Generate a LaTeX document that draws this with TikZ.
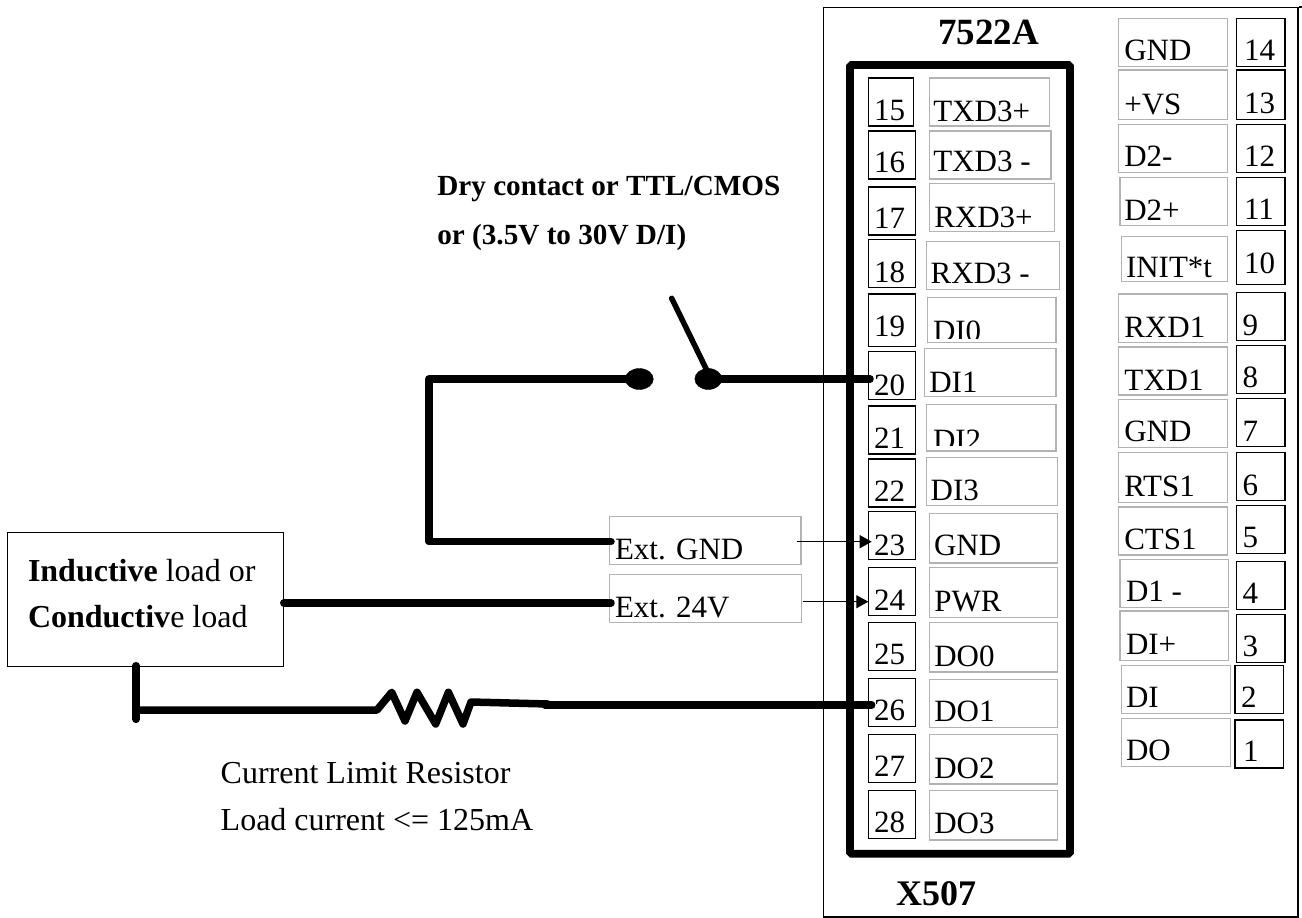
\documentclass[tikz,border=0pt]{standalone}
\usepackage{fontspec}
\setmainfont{Liberation Serif}
\usetikzlibrary{arrows.meta,shapes.geometric}
\newcommand{\fsz}[1]{\fontsize{#1}{#1}\selectfont}
\tikzset{
  numbox/.style={draw=black,line width=1.2pt,inner sep=0pt,outer sep=0pt,fill=white},
  graybox/.style={draw=black!30,line width=1.5pt,inner sep=0pt,outer sep=0pt,fill=white},
  plabel/.style={anchor=base west,inner sep=0pt,outer sep=0pt,font=\fsz{31}},
  biglabel/.style={anchor=base west,inner sep=0pt,outer sep=0pt,font=\fsz{32}},
  notelabel/.style={anchor=base west,inner sep=0pt,outer sep=0pt,font=\fsz{29.2}\bfseries},
  wire/.style={line width=7.5pt,line cap=round,line join=round},
  thinarrow/.style={line width=1.2pt,-{Triangle[length=12pt,width=13pt]}},
}
% box: style, name, x1,y1,x2,y2
\newcommand{\bx}[6]{\node[#1,minimum width={(#5-#3)*1pt},minimum height={(#6-#4)*1pt}] (#2) at ({(#3+#5)/2},{(#4+#6)/2}) {};}
% pin: name, x1,y1,x2,y2,tx,ty,text
\newcommand{\npin}[8]{\bx{numbox}{n#1}{#2}{#3}{#4}{#5}\node[plabel] (tn#1) at (#6,#7) {#8};}
\newcommand{\gpin}[8]{\bx{graybox}{g#1}{#2}{#3}{#4}{#5}\node[plabel] (tg#1) at (#6,#7) {#8};}
\begin{document}
\begin{tikzpicture}[x=1pt,y=-1pt]
\useasboundingbox (0,0) rectangle (1302,918);
% module frame
\node[draw=black,line width=1.2pt,inner sep=0pt,minimum width=474.5pt,minimum height=909.5pt] (frame) at (1060.75,462.25) {};
\draw[line width=1.2pt] (frame.north east) -- ++(3.5,0) coordinate (frametop);
% connector outline
\node[draw=black,line width=7.6pt,rounded corners=1.5pt,inner sep=0pt,minimum width=220pt,minimum height=788.7pt] (conn) at (960,459.35) {};
% left pins
\npin{15}{868.7}{78}{913.7}{126}{874}{120.7}{15}
\npin{16}{868.7}{131}{915.3}{179}{874}{172.7}{16}
\npin{17}{868.7}{187}{915.3}{235}{874}{228.3}{17}
\npin{18}{868.7}{239.7}{915.3}{287.7}{874}{282.7}{18}
\npin{19}{868.7}{294}{915.3}{346.7}{874}{336.7}{19}
\npin{20}{868.7}{351.7}{915.3}{399.7}{874}{395}{20}
\npin{21}{868.7}{406}{915.3}{454}{874}{448.3}{21}
\npin{22}{868.7}{459}{915.3}{507}{874}{501}{22}
\npin{23}{868.7}{511.7}{915.3}{559.7}{874}{555}{23}
\npin{24}{868.7}{567.7}{915.3}{615.7}{874}{610}{24}
\npin{25}{868.7}{622.3}{915.3}{670.3}{874}{664}{25}
\npin{26}{868.7}{678.3}{915.3}{726.3}{874}{720.7}{26}
\npin{27}{868.7}{734.3}{915.3}{782.3}{874}{776}{27}
\npin{28}{868.7}{790.3}{915.3}{838.3}{874}{832.3}{28}
% left labels
\gpin{15}{929.3}{78}{1049.7}{126}{933.3}{121.7}{TXD3+}
\gpin{16}{929.3}{131}{1051}{179}{933.3}{171.7}{TXD3 -}
\gpin{17}{929.3}{183.7}{1054.3}{231.7}{934.3}{227.3}{RXD3+}
\gpin{18}{926.3}{241.3}{1059.3}{289.3}{930.7}{283.3}{RXD3 -}
\bx{graybox}{g19}{927.7}{297.3}{1056}{342.3}
\begin{scope}\clip (929,299) rectangle (1055,338.3);\node[plabel] (tg19) at (933,341.7) {DI0};\end{scope}
\gpin{20}{924.7}{348.7}{1056}{396.7}{929.3}{392.7}{DI1}
\bx{graybox}{g21}{926.3}{404.7}{1056}{451}
\begin{scope}\clip (928,406) rectangle (1055,445);\node[plabel] (tg21) at (933,450) {DI2};\end{scope}
\gpin{22}{926.3}{457.3}{1057.7}{505.3}{930.7}{500}{DI3}
\gpin{23}{929.3}{513.3}{1057.7}{563}{934}{555.7}{GND}
\gpin{24}{929.3}{567.7}{1057.7}{617.3}{934.3}{611.7}{PWR}
\gpin{25}{929.3}{622.3}{1057.7}{672}{934.3}{666}{DO0}
\gpin{26}{929.3}{679.7}{1057.7}{727.7}{934.3}{721.7}{DO1}
\gpin{27}{929.3}{734.3}{1057.7}{784}{934.3}{778.3}{DO2}
\gpin{28}{929.3}{790.3}{1057.7}{840}{934.3}{833.3}{DO3}
% right labels
\gpin{14}{1118.3}{18.7}{1227.3}{66.7}{1124.3}{60.7}{GND}
\gpin{13}{1118.3}{70}{1227.3}{119.7}{1124.3}{114}{+VS}
\gpin{12}{1118.3}{124.3}{1227.3}{172.3}{1124.3}{166.7}{D2-}
\gpin{11}{1120}{177.3}{1227.3}{225.3}{1124.3}{220}{D2+}
\gpin{10}{1121.7}{236.7}{1227.3}{281.3}{1126}{277.3}{INIT*t}
\gpin{9}{1118.3}{294}{1227.3}{342.3}{1124.3}{337.3}{RXD1}
\gpin{8}{1118.3}{347}{1227.3}{395}{1124.3}{390}{TXD1}
\gpin{7}{1118.3}{399.7}{1227.3}{447.7}{1124.3}{441.7}{GND}
\gpin{6}{1118.3}{452.7}{1227.3}{502.3}{1124.3}{496.7}{RTS1}
\gpin{5}{1118.3}{507}{1227.3}{555}{1124.3}{549.3}{CTS1}
\gpin{4}{1120}{559.7}{1228.7}{607.7}{1126}{601.7}{D1 -}
\gpin{3}{1120}{611}{1228.7}{660.7}{1126}{654.3}{DI+}
\gpin{2}{1121.7}{665.7}{1230.3}{713.7}{1126}{707.3}{DI}
\gpin{1}{1121.7}{718.3}{1230.3}{766.3}{1126}{760}{DO}
% right pins
\npin{14}{1236.7}{18.7}{1285}{66.7}{1244}{60.7}{14}
\npin{13}{1236.7}{70}{1285}{119.7}{1244}{113.3}{13}
\npin{12}{1236.7}{124.3}{1285}{172.3}{1244}{166}{12}
\npin{11}{1236.7}{177.3}{1285}{225.3}{1244}{219}{11}
\npin{10}{1236.7}{230.3}{1285}{284.7}{1244}{273.3}{10}
\npin{9}{1236.7}{292.7}{1285}{340.7}{1242.7}{335}{9}
\npin{8}{1236.7}{345.3}{1285}{393.3}{1242.7}{387.7}{8}
\npin{7}{1236.7}{398.3}{1285}{446.3}{1242.7}{441.7}{7}
\npin{6}{1236.7}{452.7}{1285}{500.7}{1242.7}{495}{6}
\npin{5}{1236.7}{505.3}{1285}{553.3}{1242.7}{547.7}{5}
\npin{4}{1236.7}{561.3}{1285}{609.3}{1242.7}{603.3}{4}
\npin{3}{1236.7}{614.3}{1285}{662.3}{1242.7}{656.7}{3}
\npin{2}{1235}{665.7}{1283.3}{713.7}{1241}{707.3}{2}
\npin{1}{1235}{720}{1283.3}{768}{1243}{761.7}{1}
% titles
\node[anchor=base west,inner sep=0pt,font=\fsz{37}\bfseries] (title) at (938,45) {7522A};
\node[anchor=base west,inner sep=0pt,font=\fsz{36}\bfseries] (xname) at (896,905.7) {X507};
% note
\node[notelabel] (dry1) at (437.3,195.7) {Dry contact or TTL/CMOS};
\node[notelabel] (dry2) at (437.3,244.3) {or (3.5V to 30V D/I)};
% external boxes
\bx{graybox}{extgnd}{609.3}{516.7}{801}{564.3}
\node[plabel] (textgnd) at (615,559.3) {Ext. GND};
\bx{graybox}{extv}{609.3}{574.3}{801.5}{622.3}
\node[plabel] (textv) at (615,617.3) {Ext. 24V};
% load
\node[draw=black,line width=1.2pt,inner sep=0pt,minimum width=275.8pt,minimum height=134.4pt] (load) at (145.3,599.5) {};
\node[biglabel] (load1) at (28,581.7) {\textbf{Inductive} load or};
\node[biglabel] (load2) at (28,627.7) {\textbf{Conductiv}e load};
% switch
\node[draw=black,fill=black,shape=ellipse,minimum width=28pt,minimum height=21pt,inner sep=0pt] (swl) at (639.3,379) {};
\node[draw=black,fill=black,shape=ellipse,minimum width=27pt,minimum height=21pt,inner sep=0pt] (swr) at (708.3,379) {};
\coordinate (blade) at (671.7,298.3);
\coordinate (corner) at (429,379);
\coordinate (cornerb) at (429,541.7);
\coordinate (inA) at (871.7,541.7);
\coordinate (outA) at (796.7,541.7);
\coordinate (inB) at (868.3,601.7);
\coordinate (outB) at (803,601.7);
\coordinate (ext1) at (611,541.7);
\coordinate (ext2) at (611,603);
\draw[line width=5.5pt,line cap=round] (blade) -- (706.7,370);
\draw[wire] (swr.center) -- (870,379);
\draw[wire] (swl.center) -- (corner) -- (cornerb) -- (ext1);
\draw[wire] (load.east |- ext2) -- (ext2);
\draw[thinarrow] (outA) -- (inA);
\draw[thinarrow] (outB) -- (inB);
% resistor branch
\coordinate (lt) at (136,665.7);
\coordinate (lb) at (136,719.3);
\draw[wire] (lt) -- (lb);
\draw[wire] (136,710) -- (377,710) -- (391.7,692.3) -- (405,721) -- (417,692.3) -- (435.7,724) -- (448.4,692.3) -- (463,724) -- (471,702) -- (548,704);
\draw[wire] (545,705) -- (871.7,705);
\node[biglabel] (cl1) at (220.7,783) {Current Limit Resistor};
\node[biglabel] (cl2) at (220.7,830) {Load current <= 125mA};
\end{tikzpicture}
\end{document}
